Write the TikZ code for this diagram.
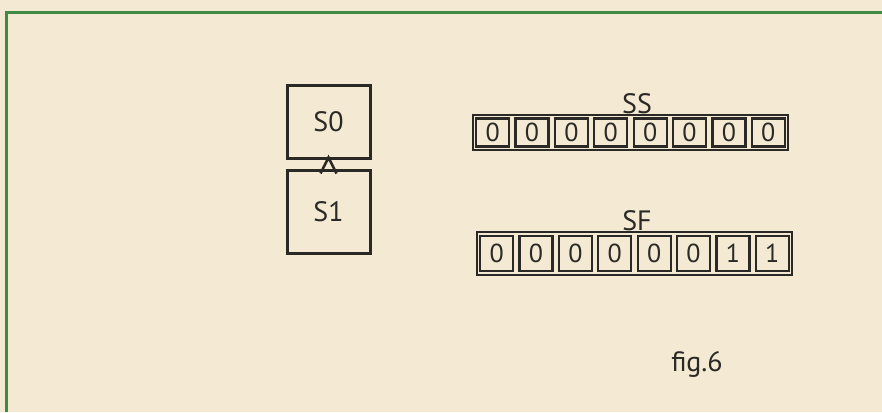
\documentclass[tikz,border=0pt]{standalone}
\usepackage{fontspec}
\setmainfont{PT Sans}
\usetikzlibrary{calc}
\definecolor{paper}{HTML}{F4EAD3}
\definecolor{frame}{HTML}{3F8A45}
\definecolor{ink}{HTML}{2B2926}
\tikzset{
  box/.style={draw=ink,line width=3pt,minimum width=83pt,minimum height=73pt,inner sep=0pt,font=\fontsize{28}{28}\selectfont,text=ink},
  reg/.style={draw=ink,line width=2.8pt,minimum width=315pt,inner sep=0pt},
  cell/.style={draw=ink,line width=2.2pt,minimum width=33pt,inner sep=0pt,font=\fontsize{26}{26}\selectfont,text=ink},
  lbl/.style={inner sep=0pt,font=\fontsize{28}{28}\selectfont,text=ink},
}
\begin{document}
\begin{tikzpicture}[x=1pt,y=-1pt]
\fill[paper] (0,0) rectangle (882,412);
\useasboundingbox (0,0) rectangle (882,412);
% green frame
\coordinate (ftl) at (6,13);
\coordinate (ftr) at (882,13);
\coordinate (fbl) at (6,412);
\draw[frame,line width=3pt] (fbl) -- (ftl) -- (ftr);
% stack boxes
\node[box] (s0) at (328.5,121.5) {S0};
\node[box,minimum height=83pt] (s1) at (328.5,211.5) {S1};
% arrowhead between them
\draw[ink,line width=2.6pt,line join=miter]
  ($(s1.north)+(-8,5)$) -- ($(s0.south)+(0,-2)$) -- ($(s1.north)+(8,5)$);
% SS register
\node[lbl] (sslbl) at (637,104) {SS};
\node[reg,minimum height=35pt] (ss) at (630.5,132.5) {};
\foreach \i/\v in {0/0,1/0,2/0,3/0,4/0,5/0,6/0,7/0}{
  \node[cell,minimum height=28pt] (ss\i) at ({473+39.375*(\i+0.5)},132.5) {\v};
}
% SF register
\node[lbl] (sflbl) at (637,221) {SF};
\node[reg,minimum height=43pt] (sf) at (634.5,253.5) {};
\foreach \i/\v in {0/0,1/0,2/0,3/0,4/0,5/0,6/1,7/1}{
  \node[cell,minimum height=35pt] (sf\i) at ({477+39.375*(\i+0.5)},253.5) {\v};
}
% caption
\node[lbl] (fig) at (697,364) {fig.6};
\end{tikzpicture}
\end{document}
